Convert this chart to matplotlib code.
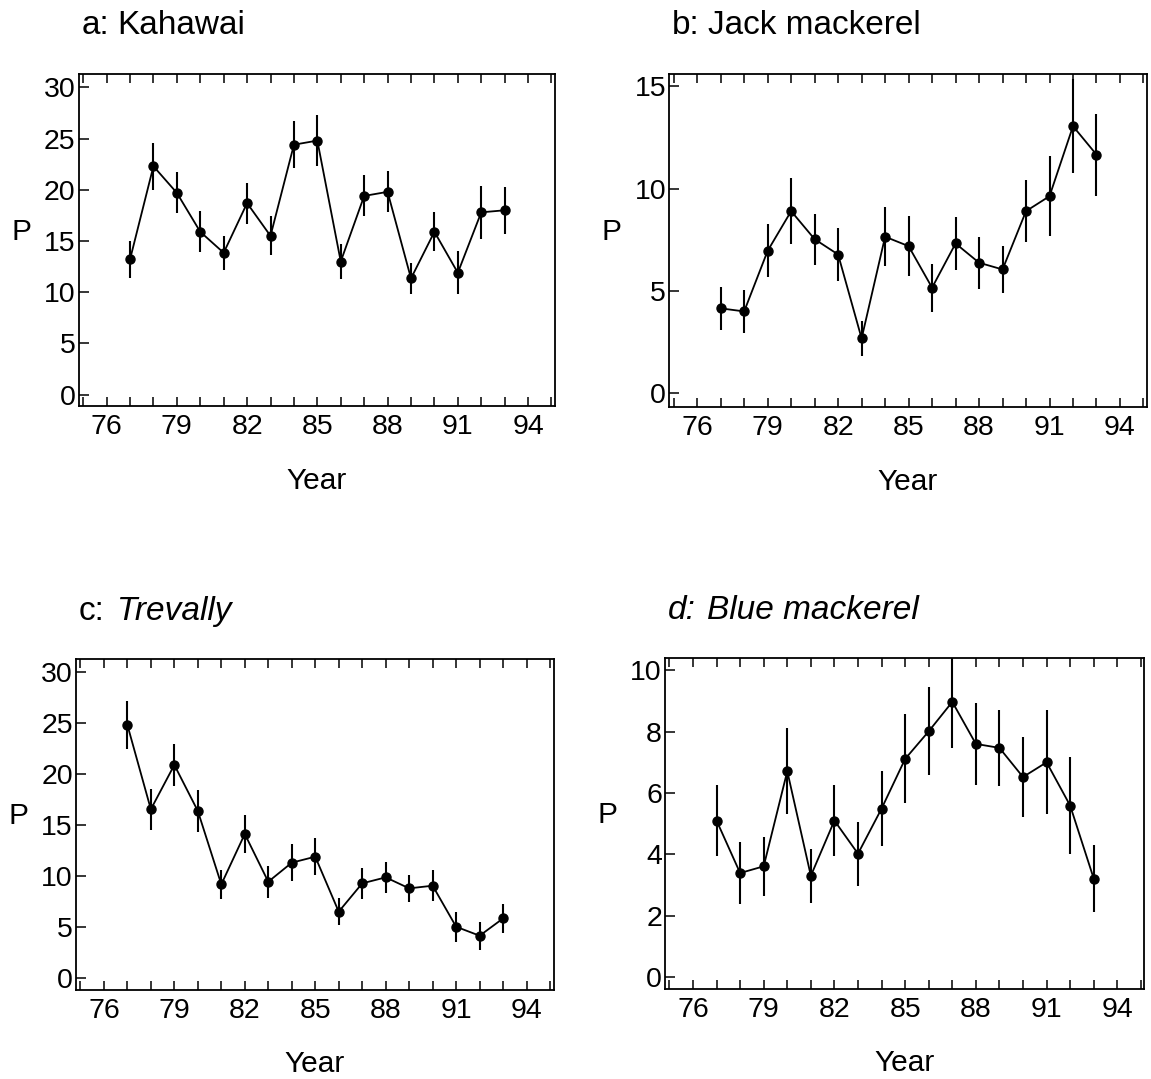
import matplotlib
matplotlib.use("Agg")
import matplotlib.pyplot as plt
from matplotlib.ticker import MultipleLocator
import numpy as np

plt.rcParams['font.family'] = ['Liberation Sans', 'DejaVu Sans']

years = np.arange(77, 94)

# a: Kahawai
kahawai = [13.2, 22.3, 19.7, 15.9, 13.85, 18.7, 15.5, 24.4, 24.8, 13.0,
           19.4, 19.8, 11.35, 15.9, 11.9, 17.8, 18.0]
kahawai_err = [1.8, 2.3, 2.0, 2.0, 1.65, 2.0, 1.9, 2.3, 2.5, 1.7,
               2.0, 2.0, 1.5, 1.9, 2.1, 2.6, 2.3]

# b: Jack mackerel
jack = [4.15, 4.0, 6.96, 8.9, 7.53, 6.78, 2.68, 7.65, 7.19, 5.16,
        7.32, 6.38, 6.05, 8.9, 9.63, 13.05, 11.66]
jack_err = [1.05, 1.05, 1.3, 1.6, 1.25, 1.3, 0.86, 1.45, 1.45, 1.17,
            1.3, 1.27, 1.14, 1.5, 1.96, 2.3, 2.0]

# c: Trevally
trevally = [24.83, 16.54, 20.9, 16.38, 9.17, 14.12, 9.43, 11.3, 11.89, 6.49,
            9.27, 9.86, 8.78, 9.04, 5.01, 4.13, 5.83]
trevally_err = [2.35, 2.0, 2.05, 2.08, 1.43, 1.85, 1.55, 1.8, 1.83, 1.3,
                1.5, 1.5, 1.36, 1.55, 1.47, 1.36, 1.44]

# d: Blue mackerel
blue = [5.1, 3.39, 3.61, 6.71, 3.3, 5.1, 4.02, 5.49, 7.11, 8.01,
        8.97, 7.6, 7.47, 6.52, 7.0, 5.59, 3.21]
blue_err = [1.17, 1.0, 0.96, 1.4, 0.88, 1.15, 1.04, 1.23, 1.45, 1.43,
            1.5, 1.34, 1.25, 1.3, 1.7, 1.57, 1.09]

xticks = [76, 79, 82, 85, 88, 91, 94]

W, H = 1151, 1079
fig = plt.figure(figsize=(W / 100, H / 100), dpi=100)


def box(left, top, right, bottom):
    return [left / W, 1 - bottom / H, (right - left) / W, (bottom - top) / H]


panels = [
    (box(78.5, 74, 555, 406), kahawai, kahawai_err, (-1.1, 31.3), 5,
     ('a:', 'Kahawai'), ('normal', 'normal'), 6),
    (box(669, 74, 1147, 407), jack, jack_err, (-0.67, 15.6), 5,
     ('b:', 'Jack mackerel'), ('normal', 'normal'), 6),
    (box(75.7, 659, 553.6, 990), trevally, trevally_err, (-1.2, 31.3), 5,
     ('c:', 'Trevally'), ('normal', 'italic'), 9),
    (box(664.7, 658, 1144.4, 989), blue, blue_err, (-0.39, 10.4), 2,
     ('d:', 'Blue mackerel'), ('italic', 'italic'), 8),
]

fs_tick = 20.5
fs_lab = 21.5
fs_title = 24

for pos, vals, errs, ylim, ystep, (tag, name), (st1, st2), gap in panels:
    ax = fig.add_axes(pos)
    ax.errorbar(years, vals, yerr=errs, fmt='-o', color='black', lw=1.3,
                elinewidth=1.5, capsize=0, markersize=6.5)
    ax.set_xlim(74.8, 95.15)
    ax.set_ylim(*ylim)
    ax.set_xticks(xticks)
    ax.xaxis.set_minor_locator(MultipleLocator(1))
    ax.yaxis.set_major_locator(MultipleLocator(ystep))
    ax.tick_params(axis='x', which='both', direction='in', top=True,
                   bottom=True, length=6.5, width=1.1, labelsize=fs_tick, pad=6)
    ax.tick_params(axis='y', direction='in', left=True, right=False,
                   length=7, width=1.1, labelsize=fs_tick, pad=2)
    for s in ax.spines.values():
        s.set_linewidth(1.3)

    ax.set_xlabel('Year', fontsize=fs_lab)
    ax.xaxis.label.set_va('center')
    ax.xaxis.set_label_coords(0.5, -0.225)
    ax.set_ylabel('P', fontsize=fs_lab, rotation=0)
    ax.yaxis.label.set_va('center')
    ax.yaxis.label.set_ha('center')
    ax.yaxis.set_label_coords(-0.12, 0.525)

    t1 = ax.text(0.006, 1.145, tag, transform=ax.transAxes, fontsize=fs_title,
                 style=st1, ha='left', va='center')
    ax.annotate(name, xy=(1, 0), xycoords=t1, xytext=(gap, 0),
                textcoords='offset points', fontsize=fs_title, style=st2,
                ha='left', va='bottom')

fig.savefig('out.png', dpi=100)
